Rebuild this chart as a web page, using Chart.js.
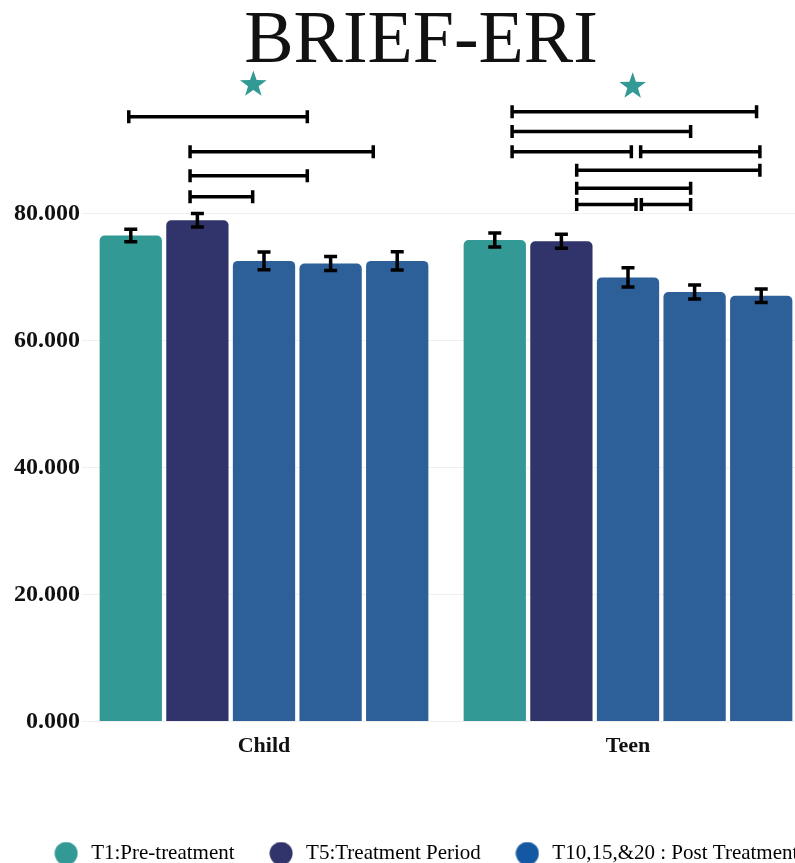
<!DOCTYPE html>
<html><head><meta charset="utf-8">
<script src="https://cdn.jsdelivr.net/npm/chart.js@4.4.1/dist/chart.umd.min.js"></script>
<style>
html,body{margin:0;padding:0;background:#fff;overflow:hidden;width:795px;height:863px}
#wrap{width:842px;height:880px;position:relative}
</style>
</head><body><div id="wrap"><canvas id="c" width="842" height="880"></canvas></div>
<script>
// ---- data ----
const categories = ['Child', 'Teen'];
const seriesLabels = ['T1', 'T5', 'T10', 'T15', 'T20'];
const t1  = [76.6, 75.9];
const t5  = [79.0, 75.7];
const t10 = [72.6, 70.0];
const t15 = [72.2, 67.7];
const t20 = [72.6, 67.1];
const t1Err  = [1.0, 1.1];
const t5Err  = [1.05, 1.1];
const t10Err = [1.4, 1.5];
const t15Err = [1.1, 1.1];
const t20Err = [1.45, 1.05];
const yTicks = [0, 20, 40, 60, 80];
const yTickLabels = ['0.000', '20.000', '40.000', '60.000', '80.000'];
const legendLabels = ['T1:Pre-treatment', 'T5:Treatment Period', 'T10,15,&20 : Post Treatment'];
// significance brackets: [category index, from bar position, to bar position, y value]
const brackets = [
  [0, -0.03, 2.65, 95.3], [0, 0.89, 3.64, 89.8], [0, 0.89, 2.65, 86.0], [0, 0.89, 1.83, 82.7],
  [1, 0.26, 3.93, 96.1], [1, 0.26, 2.94, 93.0], [1, 0.26, 2.05, 89.8], [1, 2.19, 3.98, 89.8],
  [1, 1.23, 3.98, 86.9], [1, 1.23, 2.94, 84.05], [1, 1.23, 2.12, 81.5], [1, 2.2, 2.94, 81.5]
];
// stars: [category index, bar position, y value]
const stars = [[0, 1.84, 100.4], [1, 2.07, 100.1]];

const values = [t1, t5, t10, t15, t20];
const errors = [t1Err, t5Err, t10Err, t15Err, t20Err];
const TEAL = '#329995', NAVY = '#30346b', BLUE = '#2d5f99';
const barColors = [TEAL, NAVY, BLUE, BLUE, BLUE];
const legendColors = [TEAL, NAVY, '#1458a3'];

function circleImg(color) {
  const c = document.createElement('canvas');
  c.width = 24; c.height = 24;
  const x = c.getContext('2d');
  x.fillStyle = color; x.beginPath(); x.arc(12, 12, 11.5, 0, Math.PI * 2); x.fill();
  return c;
}
const legendImgs = legendColors.map(circleImg);

const SERIF = "'Liberation Serif', 'Times New Roman', serif";

const overlay = {
  id: 'overlay',
  afterLayout(chart) {
    if (chart.legend) { chart.legend.left += 8; }
  },
  afterDatasetsDraw(chart) {
    const ctx = chart.ctx;
    const ys = chart.scales.y;
    const metas = values.map((_, j) => chart.getDatasetMeta(j));
    const barX = (cat, f) => {
      let j0 = Math.floor(f); j0 = Math.max(0, Math.min(3, j0));
      const a = metas[j0].data[cat].x, b = metas[j0 + 1].data[cat].x;
      return a + (f - j0) * (b - a);
    };
    ctx.save();
    ctx.strokeStyle = '#000';
    ctx.lineCap = 'butt';
    ctx.lineWidth = 3.5;
    // error bars
    values.forEach((arr, j) => {
      arr.forEach((v, i) => {
        const x = metas[j].data[i].x;
        const yt = ys.getPixelForValue(v + errors[j][i]);
        const yb = ys.getPixelForValue(v - errors[j][i]);
        ctx.beginPath();
        ctx.moveTo(x, yt); ctx.lineTo(x, yb);
        ctx.moveTo(x - 6.5, yt); ctx.lineTo(x + 6.5, yt);
        ctx.moveTo(x - 6.5, yb); ctx.lineTo(x + 6.5, yb);
        ctx.stroke();
      });
    });
    // brackets
    brackets.forEach(([cat, f1, f2, v]) => {
      const x1 = barX(cat, f1), x2 = barX(cat, f2), y = ys.getPixelForValue(v);
      ctx.beginPath();
      ctx.moveTo(x1, y); ctx.lineTo(x2, y);
      ctx.moveTo(x1, y - 6.5); ctx.lineTo(x1, y + 6.5);
      ctx.moveTo(x2, y - 6.5); ctx.lineTo(x2, y + 6.5);
      ctx.stroke();
    });
    // stars
    ctx.fillStyle = TEAL;
    stars.forEach(([cat, f, v]) => {
      const cx = barX(cat, f), cy = ys.getPixelForValue(v);
      const R = 14, r = 5.6;
      ctx.beginPath();
      for (let k = 0; k < 10; k++) {
        const rad = k % 2 === 0 ? R : r;
        const a = -Math.PI / 2 + k * Math.PI / 5;
        const px = cx + rad * Math.cos(a), py = cy + rad * Math.sin(a);
        if (k === 0) ctx.moveTo(px, py); else ctx.lineTo(px, py);
      }
      ctx.closePath(); ctx.fill();
    });
    ctx.restore();
  }
};

new Chart(document.getElementById('c'), {
  type: 'bar',
  data: {
    labels: categories,
    datasets: values.map((arr, j) => ({
      label: seriesLabels[j],
      data: arr,
      backgroundColor: barColors[j],
      borderWidth: 0,
      borderRadius: { topLeft: 5, topRight: 5, bottomLeft: 0, bottomRight: 0 },
      borderSkipped: false,
      barPercentage: 0.935,
      categoryPercentage: 0.915
    }))
  },
  options: {
    responsive: false,
    animation: false,
    devicePixelRatio: 1,
    layout: { padding: { left: 0, right: 0, top: 0, bottom: 6 } },
    plugins: {
      tooltip: { enabled: false },
      title: {
        display: true, text: 'BRIEF-ERI', color: '#111',
        font: { family: SERIF, size: 74, weight: 'normal', lineHeight: 1 },
        padding: { top: 6, bottom: 7 }
      },
      legend: {
        position: 'bottom',
        labels: {
          usePointStyle: true,
          pointStyleWidth: 29,
          boxHeight: 21,
          padding: 32,
          color: '#1a1a1a',
          font: { family: SERIF, size: 21 },
          generateLabels: () => legendLabels.map((t, i) => ({
            text: t, pointStyle: legendImgs[i], fillStyle: legendColors[i],
            strokeStyle: legendColors[i], lineWidth: 0, hidden: false, datasetIndex: i
          }))
        },
        onClick: () => {}
      }
    },
    scales: {
      x: {
        grid: { display: false, drawTicks: false },
        border: { display: false },
        afterFit: s => { s.height += 40; },
        ticks: { color: '#111', padding: 11.5, font: { family: SERIF, size: 22, weight: 'bold' } }
      },
      y: {
        min: 0, max: 100,
        afterBuildTicks: s => { s.ticks = yTicks.map(v => ({ value: v })); },
        afterFit: s => { s.width = 82; },
        grid: { color: '#efefef', drawTicks: false, lineWidth: 1 },
        border: { display: false },
        ticks: {
          color: '#111', padding: 2,
          font: { family: SERIF, size: 24, weight: 'bold' },
          callback: (v) => { const k = yTicks.indexOf(v); return k >= 0 ? yTickLabels[k] : ''; }
        }
      },
      yRight: {
        position: 'right', display: true,
        afterFit: s => { s.width = 32; },
        grid: { display: false, drawTicks: false },
        border: { display: false },
        ticks: { display: false }
      }
    }
  },
  plugins: [overlay]
});
</script>
</body></html>
